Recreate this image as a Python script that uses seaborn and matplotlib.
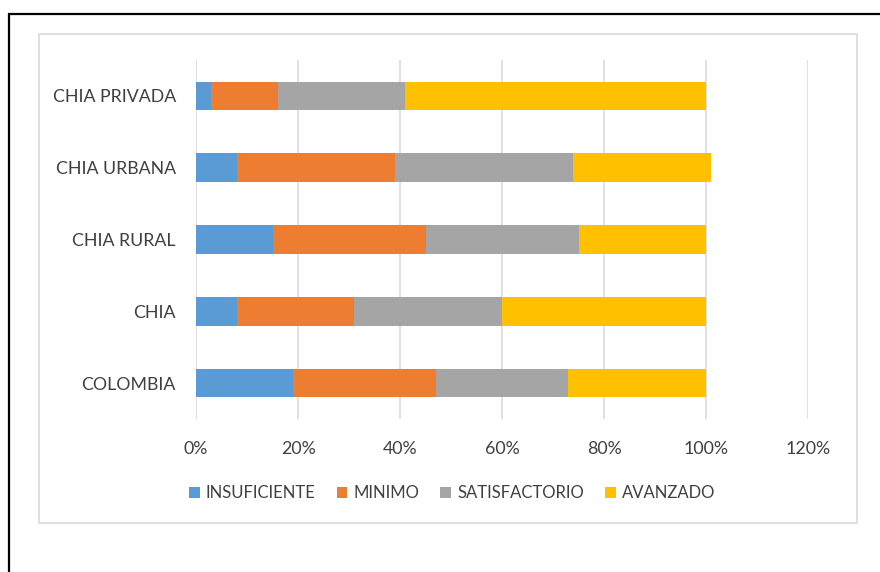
import matplotlib
matplotlib.use("Agg")
import matplotlib.pyplot as plt
from matplotlib.patches import Rectangle, Patch
from matplotlib.ticker import FuncFormatter
import seaborn as sns
import numpy as np

categories = ['CHIA PRIVADA', 'CHIA URBANA', 'CHIA RURAL', 'CHIA', 'COLOMBIA']
series_names = ['INSUFICIENTE', 'MINIMO', 'SATISFACTORIO', 'AVANZADO']
insuficiente = [3, 8, 15, 8, 19]
minimo = [13, 31, 30, 23, 28]
satisfactorio = [25, 35, 30, 29, 26]
avanzado = [59, 27, 25, 40, 27]
x_ticks = [0, 20, 40, 60, 80, 100, 120]

colors = ['#5B9BD5', '#ED7D31', '#A5A5A5', '#FFC000']
text_color = '#404040'

sns.set_theme(style='white')
plt.rcParams['font.family'] = ['Lato', 'DejaVu Sans']

W, H = 880, 572
fig = plt.figure(figsize=(W / 100, H / 100), dpi=100)
fig.patch.set_facecolor('white')

# outer black frame and inner chart-area border
fig.patches.append(Rectangle((9 / W, -0.2), 1.5, 1 - 14 / H + 0.2, transform=fig.transFigure,
                             fill=False, edgecolor='black', lw=1.6, zorder=0))
fig.patches.append(Rectangle((39 / W, 1 - 523 / H), (857 - 39) / W, (523 - 34) / H,
                             transform=fig.transFigure, fill=False, edgecolor='#d9d9d9',
                             lw=1.2, zorder=0))

ax = fig.add_axes([196 / W, 1 - 419 / H, (808 - 196) / W, (419 - 60) / H])
ax.set_facecolor('none')

data = [insuficiente, minimo, satisfactorio, avanzado]
cum = np.cumsum(np.array(data, dtype=float), axis=0)
for i in reversed(range(len(data))):
    sns.barplot(x=cum[i], y=categories, color=colors[i], saturation=1, width=0.4,
                orient='h', ax=ax, linewidth=0)

ax.set_xlim(0, 120)
ax.set_xticks(x_ticks)
ax.xaxis.set_major_formatter(FuncFormatter(lambda v, p: f'{int(round(v))}%'))
ax.set_ylim(4.5, -0.5)
ax.set_xlabel('')
ax.set_ylabel('')
ax.xaxis.grid(True, color='#d9d9d9', lw=1.1)
ax.yaxis.grid(False)
ax.set_axisbelow(True)
for s in ax.spines.values():
    s.set_visible(False)
ax.tick_params(axis='both', length=0, labelsize=12.8, labelcolor=text_color)
ax.tick_params(axis='y', pad=14.5)
ax.tick_params(axis='x', pad=15.5)

handles = [Patch(facecolor=c, edgecolor='none') for c in colors]
fig.legend(handles, series_names, loc='center', bbox_to_anchor=(452 / W, 1 - 493 / H),
           ncol=4, frameon=False, fontsize=12, labelcolor=text_color,
           handlelength=0.65, handleheight=0.65, handletextpad=0.35, columnspacing=1.28,
           borderpad=0, borderaxespad=0)

fig.savefig('out.png', dpi=100, facecolor='white')
